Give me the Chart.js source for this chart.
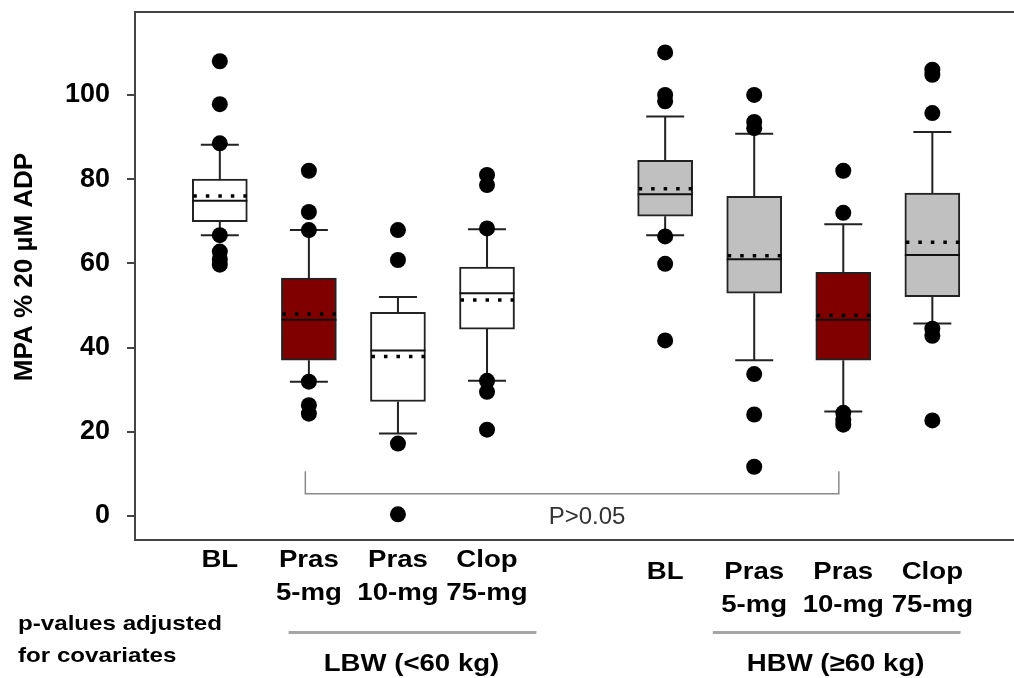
<!DOCTYPE html>
<html>
<head>
<meta charset="utf-8">
<script src="https://cdn.jsdelivr.net/npm/chart.js@4.4.0/dist/chart.umd.min.js"></script>
<style>
  html, body { margin: 0; padding: 0; background: #fff; }
</style>
</head>
<body>
<canvas id="chartMPA" width="1014" height="678"></canvas>
<script>
// categories (two weight groups, 4 treatments each)
const categories = [
    ['BL'], ['Pras', '5-mg'], ['Pras', '10-mg'], ['Clop', '75-mg'],
    ['BL'], ['Pras', '5-mg'], ['Pras', '10-mg'], ['Clop', '75-mg']
];
const slots = [1, 2, 3, 4, 6, 7, 8, 9];
const yTicks = [0, 20, 40, 60, 80, 100];

// box plot values
const boxLow    = [69.9, 37.0, 27.2, 44.4, 71.2, 52.9, 37.0, 52.1];
const boxHigh   = [80.0, 56.5, 48.4, 59.1, 84.5, 75.9, 57.9, 76.7];
const medians   = [74.9, 46.6, 39.3, 52.9, 76.4, 61.0, 46.6, 62.0];
const means     = [76.0, 48.0, 37.9, 51.3, 77.7, 61.8, 47.6, 65.0];
const whiskLow  = [66.7, 31.9, 19.6, 32.1, 66.7, 37.0, 24.8, 45.7];
const whiskHigh = [88.2, 67.9, 52.0, 68.1, 94.9, 90.8, 69.3, 91.2];
const outliers = [
    [108.0, 97.8, 88.5, 66.7, 62.8, 61.0, 59.7],
    [82.0, 72.2, 67.9, 31.9, 26.3, 24.3],
    [67.9, 60.8, 17.2, 0.4],
    [81.0, 78.6, 68.3, 32.1, 29.5, 20.5],
    [110.1, 100.0, 98.5, 66.4, 59.9, 41.7],
    [100.0, 93.6, 92.1, 33.7, 24.1, 11.7],
    [82.0, 72.0, 24.5, 22.8, 21.7],
    [106.0, 104.8, 95.7, 44.5, 42.8, 22.7]
];
const boxColors = ['#ffffff', '#800000', '#ffffff', '#ffffff', '#c0c0c0', '#c0c0c0', '#800000', '#c0c0c0'];

const FONT = "'Liberation Sans', Arial, sans-serif";

function stretchText(ctx, txt, x, y, font, align, sx) {
    ctx.save();
    ctx.translate(x, y);
    ctx.scale(sx, 1);
    ctx.font = font;
    ctx.textAlign = align;
    ctx.textBaseline = 'alphabetic';
    ctx.fillText(txt, 0, 0);
    ctx.restore();
}

const boxExtras = {
    id: 'boxExtras',
    beforeDatasetsDraw(chart) {
        const ctx = chart.ctx, xs = chart.scales.x, ys = chart.scales.y;
        ctx.save();
        ctx.strokeStyle = '#222';
        ctx.lineWidth = 2;
        slots.forEach((s, i) => {
            const x = xs.getPixelForValue(s);
            const cap = 19;
            ctx.beginPath();
            ctx.moveTo(x, ys.getPixelForValue(boxHigh[i]));
            ctx.lineTo(x, ys.getPixelForValue(whiskHigh[i]));
            ctx.moveTo(x - cap, ys.getPixelForValue(whiskHigh[i]));
            ctx.lineTo(x + cap, ys.getPixelForValue(whiskHigh[i]));
            ctx.moveTo(x, ys.getPixelForValue(boxLow[i]));
            ctx.lineTo(x, ys.getPixelForValue(whiskLow[i]));
            ctx.moveTo(x - cap, ys.getPixelForValue(whiskLow[i]));
            ctx.lineTo(x + cap, ys.getPixelForValue(whiskLow[i]));
            ctx.stroke();
        });
        ctx.restore();
    },
    afterDatasetsDraw(chart) {
        const ctx = chart.ctx, xs = chart.scales.x, ys = chart.scales.y;
        const half = 27.5;
        ctx.save();
        slots.forEach((s, i) => {
            const x = xs.getPixelForValue(s);
            // median
            ctx.strokeStyle = '#111';
            ctx.lineWidth = 2;
            ctx.setLineDash([]);
            ctx.beginPath();
            ctx.moveTo(x - half, ys.getPixelForValue(medians[i]));
            ctx.lineTo(x + half, ys.getPixelForValue(medians[i]));
            ctx.stroke();
            // mean (dotted)
            ctx.strokeStyle = '#000';
            ctx.lineWidth = 3.5;
            ctx.setLineDash([3.5, 9]);
            ctx.beginPath();
            ctx.moveTo(x - half + 1, ys.getPixelForValue(means[i]));
            ctx.lineTo(x + half, ys.getPixelForValue(means[i]));
            ctx.stroke();
        });
        ctx.setLineDash([]);

        // bracket between Pras 5-mg LBW and Pras 10-mg HBW
        const bx1 = xs.getPixelForValue(1.96), bx2 = xs.getPixelForValue(7.95);
        const by = ys.getPixelForValue(5.3), byTop = ys.getPixelForValue(10.6);
        ctx.strokeStyle = '#8a8a8a';
        ctx.lineWidth = 1.5;
        ctx.beginPath();
        ctx.moveTo(bx1, byTop);
        ctx.lineTo(bx1, by);
        ctx.lineTo(bx2, by);
        ctx.lineTo(bx2, byTop);
        ctx.stroke();
        ctx.fillStyle = '#333';
        ctx.font = '24px ' + FONT;
        ctx.textAlign = 'center';
        ctx.textBaseline = 'middle';
        ctx.fillText('P>0.05', (bx1 + bx2) / 2 + 15, ys.getPixelForValue(-0.3));
        ctx.restore();
    },
    afterDraw(chart) {
        const ctx = chart.ctx, xs = chart.scales.x, area = chart.chartArea;
        ctx.save();
        // frame top and bottom
        ctx.strokeStyle = '#444';
        ctx.lineWidth = 2;
        ctx.beginPath();
        ctx.moveTo(area.left, area.top);
        ctx.lineTo(chart.width, area.top);
        ctx.moveTo(area.left - 1, area.bottom);
        ctx.lineTo(chart.width, area.bottom);
        ctx.stroke();

        // y axis title
        ctx.fillStyle = '#000';
        ctx.save();
        ctx.translate(25, 267);
        ctx.rotate(-Math.PI / 2);
        ctx.font = 'bold 26px ' + FONT;
        ctx.textAlign = 'center';
        ctx.textBaseline = 'middle';
        ctx.fillText('MPA % 20 \u00b5M ADP', 0, 0);
        ctx.restore();

        // category labels
        const sx = 1.15;
        slots.forEach((s, i) => {
            const x = xs.getPixelForValue(s);
            const shift = i < 4 ? 0 : 12;
            categories[i].forEach((line, k) => {
                stretchText(ctx, line, x, area.bottom + 27 + shift + k * 33, 'bold 24px ' + FONT, 'center', sx);
            });
        });

        // group rules and names
        ctx.strokeStyle = '#a6a6a6';
        ctx.lineWidth = 3;
        ctx.beginPath();
        ctx.moveTo(xs.getPixelForValue(1.772), 632.5);
        ctx.lineTo(xs.getPixelForValue(4.554), 632.5);
        ctx.moveTo(xs.getPixelForValue(6.535), 632.5);
        ctx.lineTo(xs.getPixelForValue(9.316), 632.5);
        ctx.stroke();
        stretchText(ctx, 'LBW (<60 kg)', xs.getPixelForValue(3.152), 671, 'bold 24px ' + FONT, 'center', sx);
        stretchText(ctx, 'HBW (\u226560 kg)', xs.getPixelForValue(7.914), 671, 'bold 24px ' + FONT, 'center', sx);

        stretchText(ctx, 'p-values adjusted', 18, 630, 'bold 21px ' + FONT, 'left', sx);
        stretchText(ctx, 'for covariates', 18, 662, 'bold 21px ' + FONT, 'left', sx);
        ctx.restore();
    }
};

const boxData = slots.map((s, i) => ({ x: s, y: [boxLow[i], boxHigh[i]] }));
const outlierData = [];
outliers.forEach((list, i) => list.forEach(v => outlierData.push({ x: slots[i], y: v })));

const chartMPA = new Chart(document.getElementById('chartMPA').getContext('2d'), {
    type: 'bar',
    data: {
        datasets: [
            {
                label: 'box',
                data: boxData,
                backgroundColor: boxColors,
                borderColor: '#222',
                borderWidth: 2,
                borderSkipped: false,
                barThickness: 55,
                order: 2
            },
            {
                type: 'scatter',
                label: 'outliers',
                data: outlierData,
                backgroundColor: '#000',
                borderWidth: 0,
                pointRadius: 8,
                order: 1
            }
        ]
    },
    options: {
        responsive: false,
        animation: false,
        devicePixelRatio: 1,
        layout: { padding: { left: 0, top: 12, right: 0, bottom: 138 } },
        plugins: { legend: { display: false }, tooltip: { enabled: false } },
        scales: {
            x: {
                type: 'linear',
                display: false,
                offset: false,
                min: 0.0476,
                max: 9.827
            },
            y: {
                min: -5.7,
                max: 119.7,
                afterBuildTicks: scale => { scale.ticks = yTicks.map(v => ({ value: v })); },
                afterFit: scale => {
                    scale.width = 135;
                    scale.paddingTop = 0;
                    scale.paddingBottom = 0;
                },
                border: { display: true, color: '#444', width: 2 },
                grid: { drawOnChartArea: false, drawTicks: true, tickLength: 8, color: '#444', lineWidth: 2 },
                ticks: { color: '#000', padding: 17, font: { family: FONT, size: 27, weight: 'bold' } }
            }
        }
    },
    plugins: [boxExtras]
});
</script>
</body>
</html>
